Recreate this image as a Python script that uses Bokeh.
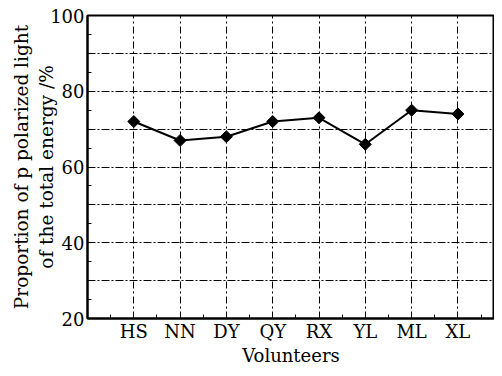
import math
from bokeh.plotting import figure
from bokeh.models import FixedTicker, Range1d
from bokeh.embed import file_html
from bokeh.resources import INLINE

volunteers = ["HS", "NN", "DY", "QY", "RX", "YL", "ML", "XL"]
proportion = [72, 67, 68, 72, 73, 66, 75, 74]
y_ticks = [20, 40, 60, 80, 100]

xs = list(range(1, len(volunteers) + 1))

p = figure(width=494, height=368, output_backend="svg", toolbar_location=None,
           x_range=Range1d(0, 8.79), y_range=Range1d(20, 100),
           min_border_left=87, min_border_top=15, min_border_right=0, min_border_bottom=40)
p.background_fill_color = "white"
p.border_fill_color = "white"
p.outline_line_color = "black"
p.outline_line_width = 2

FONT = "DejaVu Serif"

p.xaxis.ticker = FixedTicker(ticks=xs, minor_ticks=[x - 0.5 for x in xs] + [len(xs) + 0.5])
p.xaxis.major_label_overrides = {x: v for x, v in zip(xs, volunteers)}
p.yaxis.ticker = FixedTicker(ticks=y_ticks, minor_ticks=list(range(20, 101, 5)))

for ax in (p.xaxis, p.yaxis):
    ax.axis_line_width = 2
    ax.axis_line_color = "black"
    ax.major_tick_in = 6
    ax.major_tick_out = 0
    ax.minor_tick_in = 4
    ax.minor_tick_out = 0
    ax.major_tick_line_color = "black"
    ax.minor_tick_line_color = "black"
    ax.major_label_text_font = FONT
    ax.major_label_text_font_size = "18px"
    ax.major_label_text_color = "black"
    ax.axis_label_text_font = FONT
    ax.axis_label_text_font_size = "18px"
    ax.axis_label_text_font_style = "normal"
    ax.axis_label_text_color = "black"

p.xaxis.axis_label = "Volunteers"
p.xaxis.major_label_standoff = 2
p.xaxis.axis_label_standoff = 0
p.xaxis.major_label_text_line_height = 0.8
p.xaxis.axis_label_text_line_height = 0.8
p.yaxis.axis_label = "Proportion of p polarized light\nof the total energy /%"
p.yaxis.axis_label_text_font_size = "18.5px"
p.yaxis.axis_label_text_line_height = 1.18
p.yaxis.major_label_standoff = 3
p.yaxis.axis_label_standoff = -10

p.xgrid.ticker = FixedTicker(ticks=xs)
p.xgrid.grid_line_color = "black"
p.xgrid.grid_line_dash = "7 3 2 3"
p.xgrid.grid_line_width = 1
p.ygrid.ticker = FixedTicker(ticks=list(range(30, 100, 10)))
p.ygrid.grid_line_color = "black"
p.ygrid.grid_line_dash = "8 2 2 2"
p.ygrid.grid_line_width = 1

p.line(xs, proportion, line_color="black", line_width=2)
p.scatter(xs, proportion, marker="square", angle=math.pi / 4, size=8.5,
          fill_color="black", line_color="black", line_width=1)

open("out.html", "w").write(file_html(p, INLINE))
